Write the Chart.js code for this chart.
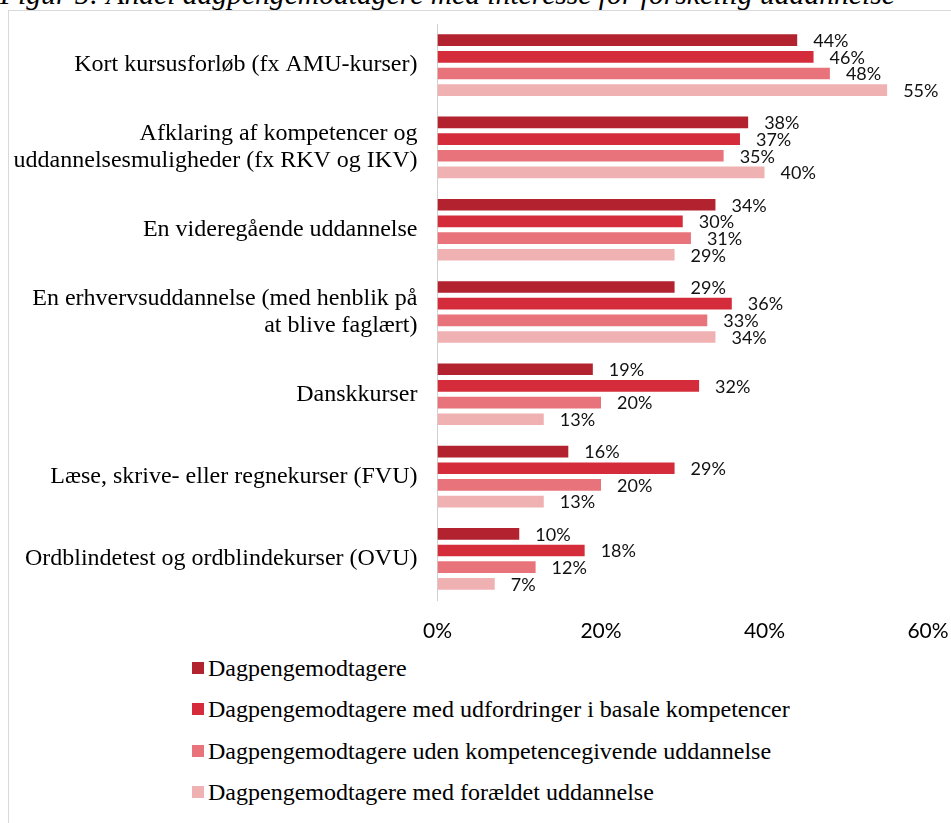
<!DOCTYPE html>
<html>
<head>
<meta charset="utf-8">
<script src="https://cdn.jsdelivr.net/npm/chart.js@4"></script>
<style>
  body { margin: 0; background: #fff; width: 951px; height: 823px; overflow: hidden; position: relative; }
  #title { position: absolute; left: 0; top: -20px; font: italic 29.6px "Liberation Serif", serif; line-height: 29.6px; white-space: nowrap; color: #000; }
  #box { position: absolute; left: 8px; top: 10px; width: 960px; height: 830px; border: 1px solid #d9d9d9; box-sizing: border-box; }
  #wrap { position: absolute; left: 9px; top: 11px; width: 942px; height: 640px; }
  .leg { position: absolute; left: 192px; height: 24px; display: flex; align-items: center; font: 24px "Liberation Serif", serif; line-height: 24px; color: #000; white-space: nowrap; }
  .leg i { display: inline-block; width: 12px; height: 12px; margin-right: 4px; }
</style>
</head>
<body>
<div id="title">Figur 5: Andel dagpengemodtagere med interesse for forskellig uddannelse</div>
<div id="box"></div>
<div id="wrap"><canvas id="chart"></canvas></div>
<div id="legend"></div>
<script>
// --- Data ---
const categories = [
    'Kort kursusforløb (fx AMU-kurser)',
    ['Afklaring af kompetencer og', 'uddannelsesmuligheder (fx RKV og IKV)'],
    'En videregående uddannelse',
    ['En erhvervsuddannelse (med henblik på', 'at blive faglært)'],
    'Danskkurser',
    'Læse, skrive- eller regnekurser (FVU)',
    'Ordblindetest og ordblindekurser (OVU)'
];
const seriesNames = [
    'Dagpengemodtagere',
    'Dagpengemodtagere med udfordringer i basale kompetencer',
    'Dagpengemodtagere uden kompetencegivende uddannelse',
    'Dagpengemodtagere med forældet uddannelse'
];
const allRecipients = [44, 38, 34, 29, 19, 16, 10];
const basicSkills   = [46, 37, 30, 36, 32, 29, 18];
const noQualifying  = [48, 35, 31, 33, 20, 20, 12];
const outdatedEdu   = [55, 40, 29, 34, 13, 13, 7];
const xTicks = [0, 20, 40, 60];

const colors = ['#B2222F', '#D42C3A', '#E8737A', '#F0B1B3'];
const seriesData = [allRecipients, basicSkills, noQualifying, outdatedEdu];

// value labels right of each bar
const valueLabels = {
    id: 'valueLabels',
    afterDatasetsDraw(chart) {
        const ctx = chart.ctx;
        ctx.save();
        ctx.font = '18px Lato, sans-serif';
        ctx.fillStyle = '#111';
        ctx.textAlign = 'left';
        ctx.textBaseline = 'middle';
        chart.data.datasets.forEach((ds, i) => {
            chart.getDatasetMeta(i).data.forEach((bar, j) => {
                ctx.fillText(ds.data[j] + '%', bar.x + 16, bar.y + 1);
            });
        });
        ctx.restore();
    }
};

new Chart(document.getElementById('chart'), {
    type: 'bar',
    data: {
        labels: categories,
        datasets: seriesData.map((d, i) => ({
            label: seriesNames[i],
            data: d,
            backgroundColor: colors[i],
            categoryPercentage: 0.81,
            barPercentage: 0.70
        }))
    },
    options: {
        indexAxis: 'y',
        responsive: true,
        maintainAspectRatio: false,
        animation: false,
        layout: { padding: { top: 13, right: 23, left: 0, bottom: 0 } },
        plugins: { legend: { display: false }, tooltip: { enabled: false } },
        scales: {
            x: {
                min: 0, max: 60,
                afterBuildTicks: s => { s.ticks = xTicks.map(v => ({ value: v })); },
                afterFit: s => { s.height = 51; s.paddingLeft = 0; s.paddingRight = 0; },
                grid: { display: false, drawTicks: false },
                border: { display: false },
                ticks: {
                    padding: 19,
                    color: '#000',
                    font: { family: 'Lato', size: 21 },
                    callback: v => v + '%'
                }
            },
            y: {
                afterFit: s => { s.width = 428.5; s.paddingTop = 0; s.paddingBottom = 0; },
                grid: { display: false, drawTicks: false },
                border: { display: true, color: '#d0d0d0', width: 1 },
                ticks: {
                    padding: 20,
                    color: '#000',
                    font: { family: 'Liberation Serif', size: 24, lineHeight: 1.12 }
                }
            }
        }
    },
    plugins: [valueLabels]
});

// legend, one row per series
const legendTops = [655.5, 697, 738.5, 780];
document.getElementById('legend').innerHTML = seriesNames.map((n, i) =>
    `<div class="leg" style="top:${legendTops[i]}px"><i style="background:${colors[i]}"></i>${n}</div>`
).join('');
</script>
</body>
</html>
